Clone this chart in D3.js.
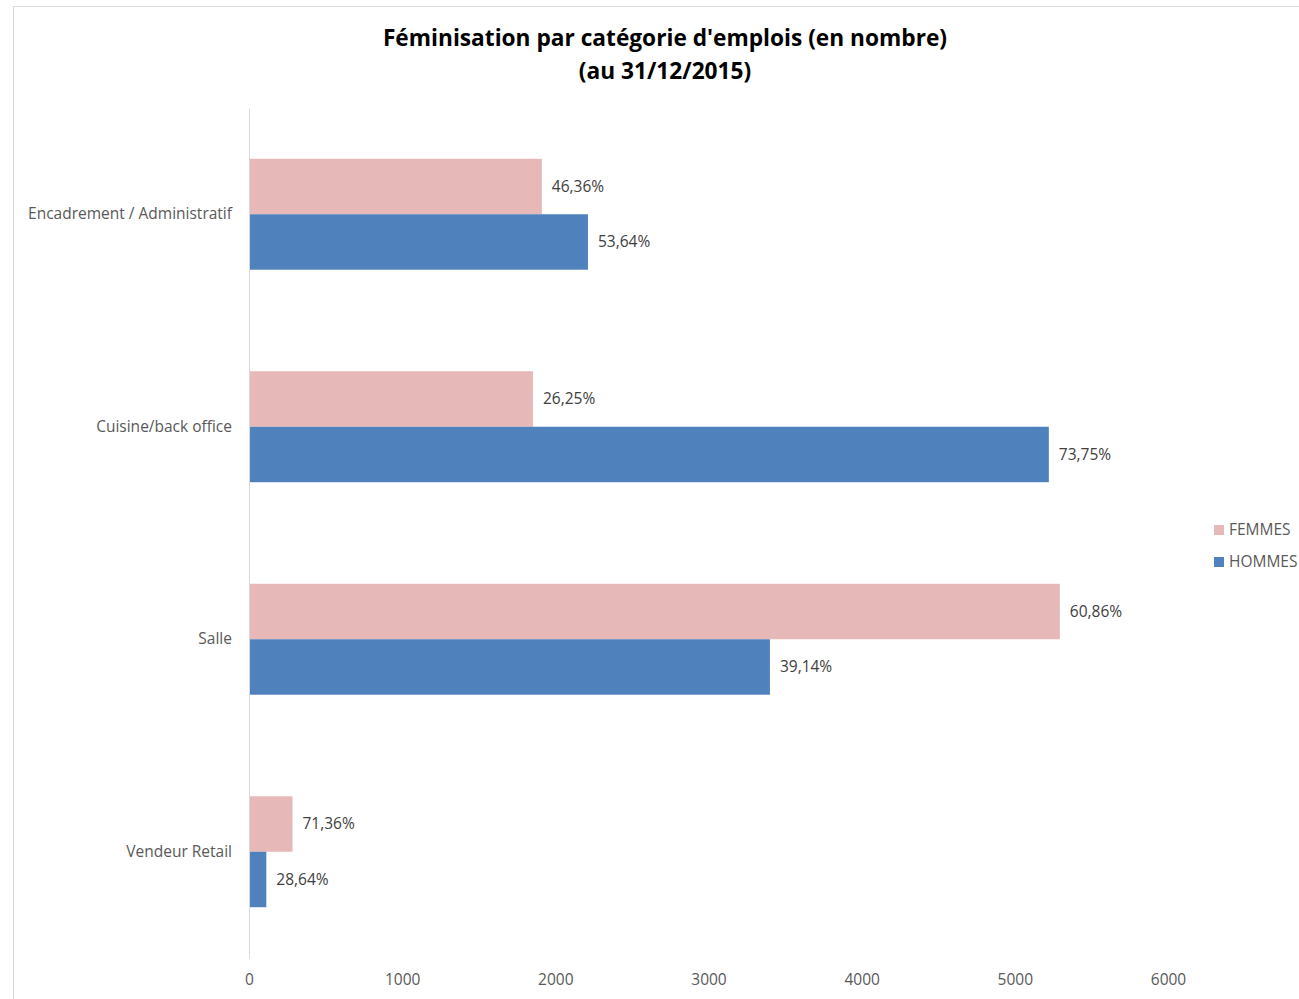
<!DOCTYPE html>
<html><head><meta charset="utf-8">
<script src="https://cdn.jsdelivr.net/npm/d3@7"></script>
<style>body{margin:0;background:#fff}svg{display:block}text{font-family:"Open Sans",sans-serif}</style>
</head><body>
<svg id="c" width="1299" height="999"></svg>
<script>
const categories = ["Encadrement / Administratif","Cuisine/back office","Salle","Vendeur Retail"];
const seriesNames = ["FEMMES","HOMMES"];
const femmes = [1912, 1854, 5294, 284];
const hommes = [2213, 5222, 3401, 113];
const femmesLabels = ["46,36%","26,25%","60,86%","71,36%"];
const hommesLabels = ["53,64%","73,75%","39,14%","28,64%"];
const xTicks = [0,1000,2000,3000,4000,5000,6000];
const colors = {FEMMES:"#E6B9B8", HOMMES:"#4F81BD"};

(function(){
const FONT = "'Open Sans',sans-serif";
const FS = 15.5;
const svg = d3.select("#c");
svg.append("rect").attr("x",13.5).attr("y",6.5).attr("width",1300).attr("height",1000)
  .attr("fill","#fff").attr("stroke","#d9d9d9");

const pLeft=249, pRight=1168, pTop=108, pBottom=958;
const x = d3.scaleLinear().domain([0,6000]).range([pLeft,pRight]);
const y = d3.scaleBand().domain(categories).range([pTop,pBottom]).paddingInner(0.478).paddingOuter(0.239);
const sub = d3.scaleBand().domain(seriesNames).range([0,y.bandwidth()]);

svg.append("text").attr("x",665).attr("y",46).attr("text-anchor","middle")
  .attr("font-size",22.7).attr("font-weight","bold").attr("fill","#000")
  .text("Féminisation par catégorie d'emplois (en nombre)");
svg.append("text").attr("x",665).attr("y",79).attr("text-anchor","middle")
  .attr("font-size",22.7).attr("font-weight","bold").attr("fill","#000")
  .text("(au 31/12/2015)");

const data = [];
categories.forEach((c,i)=>{
  data.push({cat:c, s:"FEMMES", v:femmes[i], l:femmesLabels[i]});
  data.push({cat:c, s:"HOMMES", v:hommes[i], l:hommesLabels[i]});
});

svg.selectAll("rect.bar").data(data).join("rect").attr("class","bar")
  .attr("x",x(0)).attr("y",d=>y(d.cat)+sub(d.s))
  .attr("width",d=>x(d.v)-x(0)).attr("height",sub.bandwidth())
  .attr("fill",d=>colors[d.s]);

svg.selectAll("text.lbl").data(data).join("text").attr("class","lbl")
  .attr("x",d=>x(d.v)+10).attr("y",d=>y(d.cat)+sub(d.s)+sub.bandwidth()/2)
  .attr("dy","0.35em").attr("font-size",FS).attr("fill","#404040").text(d=>d.l);

const ya = svg.append("g").attr("transform",`translate(${pLeft},0)`).call(d3.axisLeft(y).tickSize(0).tickPadding(17));
ya.select(".domain").attr("stroke","#d9d9d9");
ya.selectAll("text").attr("font-size",FS).attr("fill","#595959").style("font-family",FONT);

const xa = svg.append("g").attr("transform",`translate(0,${pBottom})`).call(d3.axisBottom(x).tickValues(xTicks).tickSize(0).tickPadding(16).tickFormat(d3.format("d")));
xa.select(".domain").remove();
xa.selectAll("text").attr("font-size",FS).attr("fill","#595959").style("font-family",FONT);

const lg = svg.append("g");
seriesNames.forEach((s,i)=>{
  lg.append("rect").attr("x",1214).attr("y",525+i*32).attr("width",10).attr("height",10).attr("fill",colors[s]);
  lg.append("text").attr("x",1229).attr("y",530+i*32).attr("dy","0.35em").attr("font-size",FS).attr("fill","#595959").text(s);
});
})();
</script>
</body></html>
